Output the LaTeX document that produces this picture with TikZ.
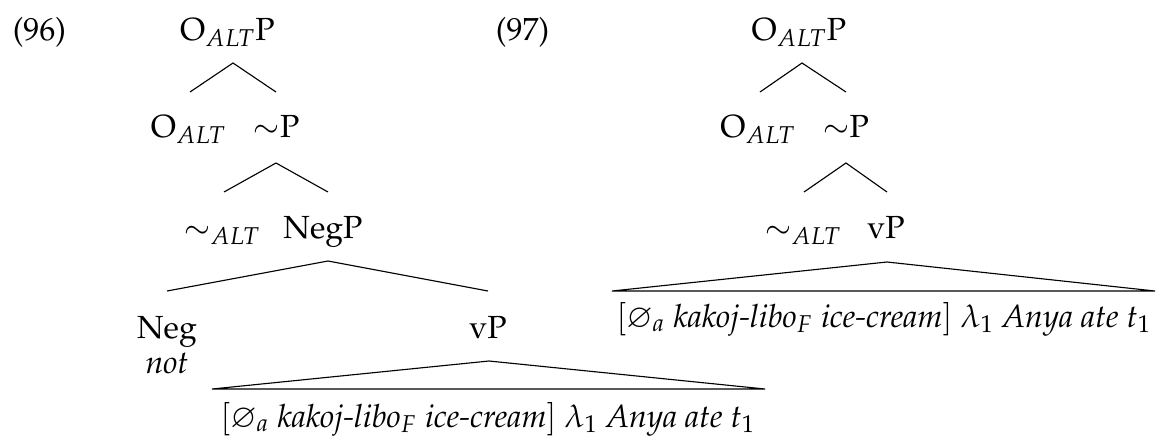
\documentclass[tikz,border=0pt]{standalone}
\usepackage[T1]{fontenc}
\usepackage{mathpazo}
\usepackage{amssymb}
\begin{document}
\begin{tikzpicture}[x=0.4pt,y=-0.4pt,
  lab/.style={anchor=base,inner sep=0pt,font=\fontsize{12.8}{15}\selectfont},
  branch/.style={line width=0.45pt}]
\useasboundingbox (0,0) rectangle (1156,442);
% ---------- (96) ----------
\node[lab] (n96) at (39.5,40) {(96)};
\node[lab] (r1) at (227.5,40) {O$_{ALT}$P};
\node[lab] (o1) at (188.5,137) {O$_{ALT}$};
\node[lab] (s1) at (276.5,137) {$\sim$P};
\node[lab] (t1) at (222,238) {$\sim_{ALT}$};
\node[lab] (negp) at (323,238) {NegP};
\node[lab] (neg) at (167,338) {Neg};
\node[lab] (notw) at (167,373) {\textit{not}};
\node[lab] (vp1) at (488,338) {vP};
\node[lab] (txt1) at (488,427) {$[\varnothing_a$ \textit{kakoj-libo}$_F$ \textit{ice-cream}$]$ $\lambda_1$ \textit{Anya ate} $t_1$};
\coordinate (a1) at (233,63);  \coordinate (a1l) at (190,92);  \coordinate (a1r) at (276,92);
\coordinate (a2) at (276,163); \coordinate (a2l) at (224,192); \coordinate (a2r) at (328,192);
\coordinate (a3) at (328,261); \coordinate (a3l) at (167,291); \coordinate (a3r) at (488,291);
\coordinate (v1) at (489,361); \coordinate (v1l) at (212,389); \coordinate (v1r) at (765,389);
\draw[branch] (a1l) -- (a1) -- (a1r);
\draw[branch] (a2l) -- (a2) -- (a2r);
\draw[branch] (a3l) -- (a3) -- (a3r);
\draw[branch] (v1l) -- (v1) -- (v1r) -- cycle;
% ---------- (97) ----------
\node[lab] (n97) at (522.5,40) {(97)};
\node[lab] (r2) at (799,40) {O$_{ALT}$P};
\node[lab] (o2) at (758,137) {O$_{ALT}$};
\node[lab] (s2) at (846,137) {$\sim$P};
\node[lab] (t2) at (803,238) {$\sim_{ALT}$};
\node[lab] (vp2) at (886,238) {vP};
\node[lab] (txt2) at (884,327) {$[\varnothing_a$ \textit{kakoj-libo}$_F$ \textit{ice-cream}$]$ $\lambda_1$ \textit{Anya ate} $t_1$};
\coordinate (b1) at (802,63);  \coordinate (b1l) at (760,92);  \coordinate (b1r) at (846,92);
\coordinate (b2) at (846,163); \coordinate (b2l) at (804,192); \coordinate (b2r) at (887,192);
\coordinate (v2) at (887,262); \coordinate (v2l) at (612,291); \coordinate (v2r) at (1155,291);
\draw[branch] (b1l) -- (b1) -- (b1r);
\draw[branch] (b2l) -- (b2) -- (b2r);
\draw[branch] (v2l) -- (v2) -- (v2r) -- cycle;
\end{tikzpicture}
\end{document}
